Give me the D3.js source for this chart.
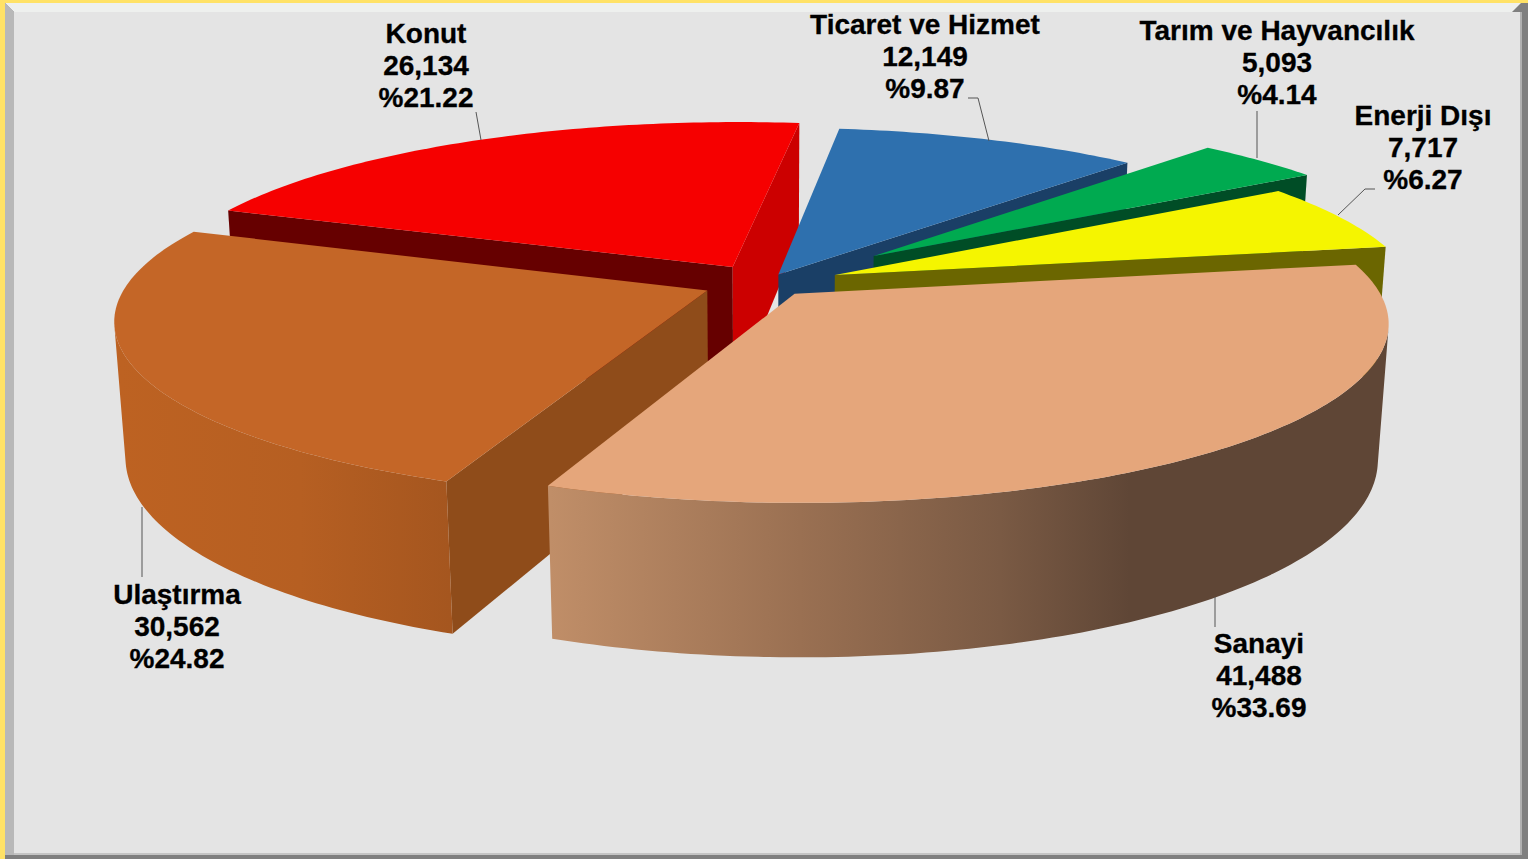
<!DOCTYPE html>
<html>
<head>
<meta charset="utf-8">
<script src="https://cdn.jsdelivr.net/npm/d3@7"></script>
<style>
  html, body { margin: 0; padding: 0; background: #e4e4e4; overflow: hidden; }
  svg { display: block; }
  text { font-family: "Liberation Sans", Arial, sans-serif; font-weight: bold; font-size: 28px; fill: #000; stroke: #000; stroke-width: 0.3px; }
</style>
</head>
<body>
<div id="chart"></div>
<script>
// values
const categories = ['Sanayi', 'Ulaştırma', 'Konut', 'Ticaret ve Hizmet', 'Tarım ve Hayvancılık', 'Enerji Dışı']
const values = [41488, 30562, 26134, 12149, 5093, 7717]
const percents = ['33.69', '24.82', '21.22', '9.87', '4.14', '6.27']
const explode = [0.08, 0.108, 0.11, 0.055, 0.25, 0.13]

const topColors = ['#e5a67b', '#c46627', '#f60000', '#2e70ae', '#00aa50', '#f5f500']
const startFace = ['#5f4636', '#8f4c1a', '#660000', '#1a3f66', '#004d26', '#6b6600']
const endFace = ['#5f4636', '#8f4c1a', '#cc0000', '#1a3f66', '#004d26', '#6b6600']
const drawOrder = [2, 3, 4, 5, 1, 0] // back to front

// outer wall shading, only these two walls face the viewer
const wallStops = {
    0: [[550, '#c08e68'], [800, '#9a7052'], [1000, '#7a5a44'], [1130, '#5f4636'], [1385, '#5f4636']],
    1: [[120, '#bd6222'], [300, '#b65f22'], [450, '#a5561f']]
}

// label centre x, first line y, leader line points
const labelPos = [
    { x: 1259, y: 653, line: [[1215, 597], [1215, 627]] },
    { x: 177, y: 604, line: [[142, 507], [142, 577]] },
    { x: 426, y: 43, line: [[476, 112], [481, 140]] },
    { x: 925, y: 34, line: [[968, 98], [978, 98], [989, 141]] },
    { x: 1277, y: 40, line: [[1257, 111], [1257, 158]] },
    { x: 1423, y: 125, line: [[1375, 189], [1365, 189], [1338, 215]] }
]

const width = 1528, height = 859

const svg = d3.select('#chart').append('svg')
    .attr('width', width)
    .attr('height', height)

// frame
svg.append('rect').attr('width', width).attr('height', height).attr('fill', '#7f7f7f')
svg.append('polygon').attr('points', '0,0 1528,0 1528,3 5,3 5,859 0,859').attr('fill', '#ffe266')
svg.append('polygon').attr('points', '5,3 1521,3 1512,12 14,12').attr('fill', '#eef0ee')
svg.append('polygon').attr('points', '5,3 14,12 14,855 5,855').attr('fill', '#b8b8b8')
svg.append('rect').attr('x', 14).attr('y', 12).attr('width', 1507).attr('height', 843).attr('fill', '#e4e4e4')
svg.append('rect').attr('x', 14).attr('y', 853).attr('width', 1507).attr('height', 2).attr('fill', '#c4c4c4')
svg.append('rect').attr('x', 1520).attr('y', 12).attr('width', 2).attr('height', 843).attr('fill', '#b0b0b0')

// pie laid out on a tilted plane with a bit of perspective
const view = { cx: 765, cy: 283, rx: 580, ry: 172.4, depth: 135, p: 0.1575, q: 0.017 }

const pie = d3.pie().sort(null).value(d => d)
    .startAngle(80.2 * Math.PI / 180)
    .endAngle((80.2 + 360) * Math.PI / 180)
const arcs = pie(values)

function project(i, angle, r, z) {
    let mid = (arcs[i].startAngle + arcs[i].endAngle) / 2
    let X = explode[i] * Math.sin(mid) + r * Math.sin(angle)
    let Y = explode[i] * Math.cos(mid) + r * Math.cos(angle)
    let w = 1 + view.p * Y + view.q * z
    return [view.cx + view.rx * X / w, view.cy - view.ry * Y / w + view.depth * z / w]
}

function angleSteps(a) {
    let n = Math.max(8, Math.ceil((a.endAngle - a.startAngle) * 60))
    return d3.range(n + 1).map(k => a.startAngle + (a.endAngle - a.startAngle) * k / n)
}

function wallFacing(i, t, t2) {
    return d3.polygonArea([project(i, t, 1, 0), project(i, t2, 1, 0), project(i, t2, 1, 1), project(i, t, 1, 1)]) > 0
}

const defs = svg.append('defs')
Object.keys(wallStops).forEach(i => {
    let stops = wallStops[i]
    let x0 = stops[0][0], x1 = stops[stops.length - 1][0]
    defs.append('linearGradient')
        .attr('id', 'wall' + i)
        .attr('gradientUnits', 'userSpaceOnUse')
        .attr('x1', x0).attr('y1', 0).attr('x2', x1).attr('y2', 0)
        .selectAll('stop')
        .data(stops)
        .join('stop')
        .attr('offset', d => (d[0] - x0) / (x1 - x0))
        .attr('stop-color', d => d[1])
})

const path = d3.line()
const pieG = svg.append('g')

drawOrder.forEach(i => {
    let a = arcs[i]
    let g = pieG.append('g')
    let steps = angleSteps(a)

    // flat cut faces, only the ones turned to the viewer
    let faceS = [project(i, 0, 0, 0), project(i, a.startAngle, 1, 0), project(i, a.startAngle, 1, 1), project(i, 0, 0, 1)]
    let faceE = [project(i, 0, 0, 0), project(i, a.endAngle, 1, 0), project(i, a.endAngle, 1, 1), project(i, 0, 0, 1)]
    if (d3.polygonArea(faceS) > 0) g.append('path').attr('d', path(faceS) + 'Z').attr('fill', startFace[i])
    if (d3.polygonArea(faceE) < 0) g.append('path').attr('d', path(faceE) + 'Z').attr('fill', endFace[i])

    // outer wall, keep a step if the piece before or after it faces the viewer
    let front = steps.filter((t, k) =>
        (k < steps.length - 1 && wallFacing(i, t, steps[k + 1])) ||
        (k > 0 && wallFacing(i, steps[k - 1], t)))
    if (front.length > 1 && wallStops[i]) {
        let upper = front.map(t => project(i, t, 1, 0))
        let lower = front.map(t => project(i, t, 1, 1)).reverse()
        g.append('path').attr('d', path(upper.concat(lower)) + 'Z').attr('fill', 'url(#wall' + i + ')')
    }

    // top surface
    let rim = steps.map(t => project(i, t, 1, 0))
    g.append('path')
        .attr('d', path([project(i, 0, 0, 0)].concat(rim)) + 'Z')
        .attr('fill', topColors[i])
})

// leader lines
svg.append('g').selectAll('path')
    .data(labelPos)
    .join('path')
    .attr('d', d => path(d.line))
    .attr('fill', 'none')
    .attr('stroke', '#555')
    .attr('stroke-width', 1)

// labels
const fmt = d3.format(',')
svg.append('g').selectAll('text')
    .data(categories)
    .join('text')
    .attr('text-anchor', 'middle')
    .attr('x', (d, i) => labelPos[i].x)
    .attr('y', (d, i) => labelPos[i].y)
    .selectAll('tspan')
    .data((d, i) => [d, fmt(values[i]), '%' + percents[i]].map(s => ({ s, x: labelPos[i].x })))
    .join('tspan')
    .attr('x', d => d.x)
    .attr('dy', (d, k) => k ? 32 : 0)
    .text(d => d.s)
</script>
</body>
</html>
